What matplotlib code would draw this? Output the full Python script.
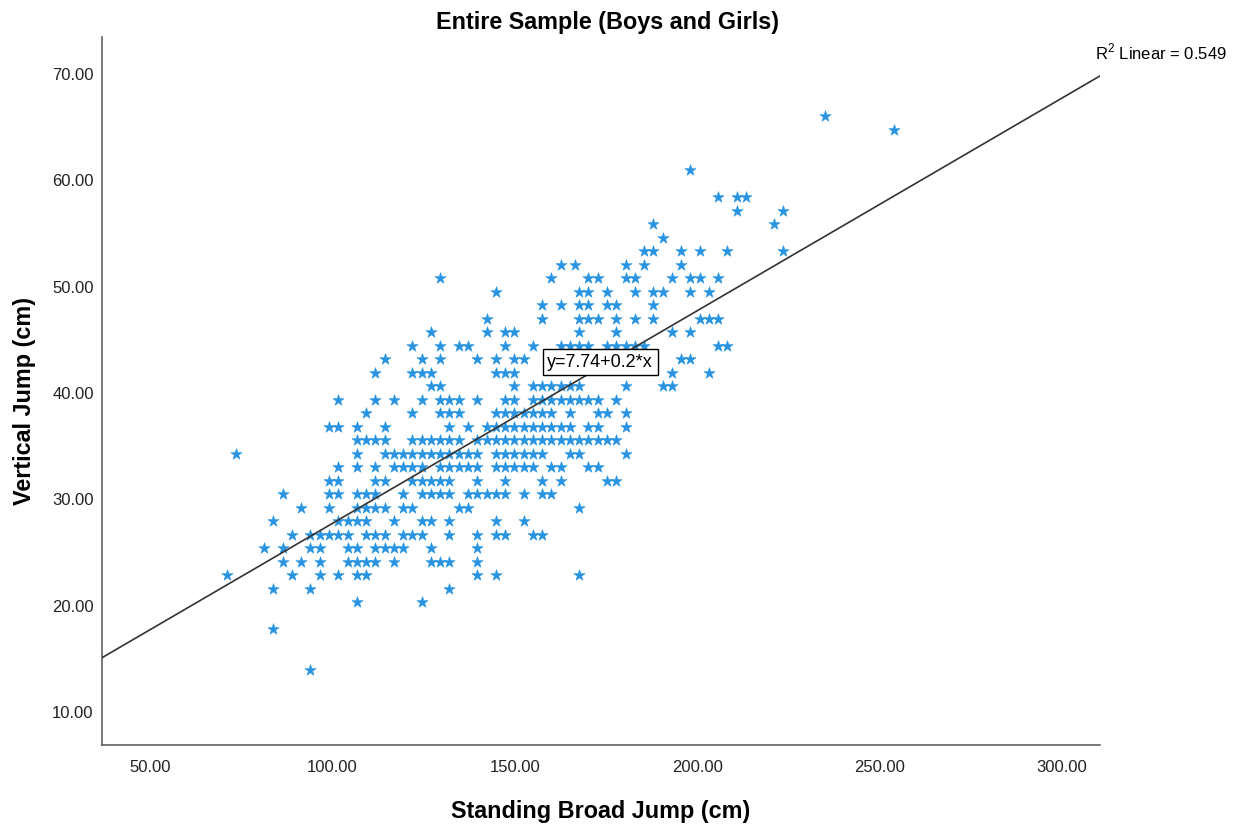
''' SPSS style scatter: standing broad jump vs vertical jump '''

import matplotlib
matplotlib.use('Agg')
import matplotlib.pyplot as plt
import numpy as np

CM_PER_INCH = 2.54

# vertical jump levels (inches, recorded in half inches)
vj_levels_in = [26, 25.5, 24, 23, 22.5, 22, 21.5, 21, 20.5, 20, 19.5, 19, 18.5, 18,
                17.5, 17, 16.5, 16, 15.5, 15, 14.5, 14, 13.5, 13, 12.5, 12, 11.5,
                11, 10.5, 10, 9.5, 9, 8.5, 8, 7, 5.5]

# standing broad jump (inches) of the subjects at each vertical jump level
sbj_at_level_in = [
    [92.5],
    [100],
    [78],
    [81, 83, 84],
    [83, 88],
    [74, 87],
    [75],
    [73, 74, 77, 79, 82, 88],
    [64, 65.5, 71, 73, 77],
    [51, 63, 67, 68, 71, 72, 76, 78, 79, 81],
    [57, 66, 67, 69, 72, 74, 75, 78, 80],
    [62, 64, 66, 67, 69, 70, 74],
    [56, 62, 66, 67, 68, 70, 72, 74, 79, 80, 81],
    [50, 56, 58, 59, 66, 70, 76, 78],
    [48, 51, 53, 54, 58, 61, 64, 65, 66, 67, 69, 70, 71, 72, 73, 81, 82],
    [45, 49, 51, 55, 57, 59, 60, 77, 78],
    [44, 48, 49, 50, 57, 58, 59, 76, 80],
    [50, 51, 59, 61, 62, 63, 64, 65, 66, 71, 75, 76],
    [40, 44, 46, 49, 51, 52, 53, 55, 58, 59, 61, 62, 63, 64, 65, 66, 67, 68, 70],
    [43, 48, 51, 52, 53, 57, 58, 59, 60, 61, 62, 63, 65, 68, 69, 71],
    [39, 40, 42, 45, 52, 54, 56, 57, 58, 59, 60, 61, 62, 63, 64, 65, 67, 68, 71],
    [42, 43, 44, 45, 48, 49, 50, 51, 52, 53, 55, 56, 57, 58, 59, 60, 61, 62, 63,
     64, 65, 66, 67, 68, 69, 70],
    [29, 42, 45, 46, 47, 48, 49, 50, 51, 52, 53, 54, 55, 57, 58, 59, 60, 61, 62,
     65, 66, 71],
    [40, 42, 44, 46, 47, 48, 49, 51, 52, 53, 54, 55, 57, 58, 59, 60, 61, 63, 64,
     67, 68],
    [39, 40, 44, 45, 48, 49, 50, 51, 52, 55, 58, 62, 64, 69, 70],
    [34, 39, 40, 42, 43, 44, 47, 49, 50, 51, 52, 54, 55, 56, 57, 58, 60, 62, 63],
    [36, 39, 42, 43, 44, 45, 47, 48, 53, 54, 66],
    [33, 40, 41, 42, 43, 46, 49, 50, 52, 57, 60],
    [35, 37, 38, 39, 40, 41, 43, 44, 45, 47, 48, 49, 52, 55, 57, 58, 61, 62],
    [32, 34, 37, 38, 41, 42, 44, 45, 46, 47, 50, 55],
    [34, 36, 38, 41, 42, 43, 44, 46, 50, 51, 52, 55],
    [28, 35, 38, 40, 42, 43, 55, 57, 66],
    [33, 37, 52],
    [42, 49],
    [33],
    [37],
]

# fit shown on the chart
intercept = 7.74
slope = 0.2
r_squared = 0.549

x_ticks = [50, 100, 150, 200, 250, 300]
y_ticks = [10, 20, 30, 40, 50, 60, 70]


def main():
    ''' main '''
    plt.rcParams['font.family'] = ['Liberation Sans', 'DejaVu Sans']

    sbj = []
    vj = []
    for level, row in zip(vj_levels_in, sbj_at_level_in):
        sbj.extend(row)
        vj.extend([level] * len(row))
    sbj = np.array(sbj) * CM_PER_INCH
    vj = np.array(vj) * CM_PER_INCH

    fig = plt.figure(figsize=(12.4, 8.32), dpi=100)
    ax = fig.add_axes([102 / 1240, 1 - 745 / 832, 998 / 1240, 708 / 832])

    xlim = (36.84, 310.4)
    ax.set_xlim(*xlim)
    ax.set_ylim(6.9, 73.48)

    ax.scatter(sbj, vj, marker='*', s=72, color='#2893e0', edgecolors='#2893e0',
               linewidths=0.4, zorder=3)

    xs = np.array(xlim)
    ax.plot(xs, intercept + slope * xs, color='#333333', lw=1.2, zorder=4)

    for side in ('top', 'right'):
        ax.spines[side].set_visible(False)
    for side in ('left', 'bottom'):
        ax.spines[side].set_color('#555555')
        ax.spines[side].set_linewidth(1.1)

    ax.set_xticks(x_ticks)
    ax.set_yticks(y_ticks)
    ax.set_xticklabels([f'{v:.2f}' for v in x_ticks])
    ax.set_yticklabels([f'{v:.2f}' for v in y_ticks])
    ax.tick_params(axis='both', length=0, labelsize=12, colors='#222222')
    ax.tick_params(axis='x', pad=11)
    ax.tick_params(axis='y', pad=6)

    ax.set_xlabel('Standing Broad Jump (cm)', fontsize=16.8, fontweight='bold')
    ax.xaxis.label.set_va('center')
    ax.xaxis.set_label_coords(0.5, -0.0946)
    ax.set_ylabel('Vertical Jump (cm)', fontsize=16.8, fontweight='bold')
    ax.yaxis.label.set_va('center')
    ax.yaxis.set_label_coords(-0.0772, 0.486)

    fig.text(608 / 1240, 1 - 22 / 832, 'Entire Sample (Boys and Girls)',
             ha='center', va='center', fontsize=16.8, fontweight='bold')

    ax.text(173.4, 42.9, f'y={intercept}+{slope}*x', ha='center', va='center',
            fontsize=13, zorder=6,
            bbox=dict(boxstyle='square,pad=0.25', fc='white', ec='black', lw=1))

    fig.text(1227 / 1240, 1 - 52 / 832, r'R$^{\mathregular{2}}$ Linear = ' + f'{r_squared}',
             ha='right', va='center', fontsize=12)

    fig.savefig('out.png', dpi=100, facecolor='white')


if __name__ == '__main__':
    main()
